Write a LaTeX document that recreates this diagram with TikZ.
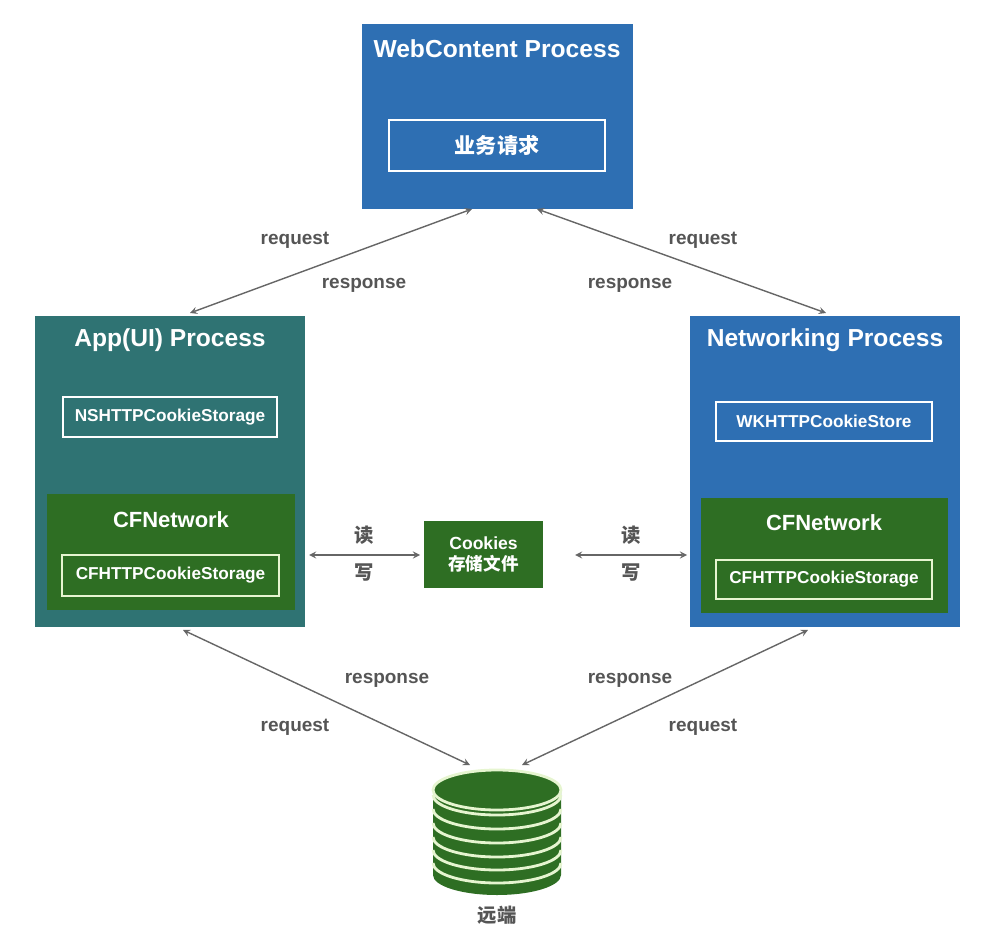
\documentclass[tikz,border=0pt]{standalone}
\usepackage{fontspec}
\setmainfont{Liberation Sans}
\newfontfamily\cjk{Noto Sans CJK SC}
\begin{document}
\begin{tikzpicture}[x=0.02cm,y=-0.02cm,font=\bfseries,
 inb/.style={draw=white,line width=1pt},
 ttl/.style={text=white,font=\bfseries\fontsize{14}{16}\selectfont},
 sm/.style={text=white,font=\bfseries\fontsize{9.8}{12}\selectfont},
 lbl/.style={text=labC,font=\bfseries\fontsize{10.8}{13}\selectfont},
 cj/.style={text=labC,font=\bfseries\cjk\fontsize{11}{13}\selectfont},
 arr/.style={<->,>=stealth,draw=arrC,line width=0.8pt}]
\definecolor{blueC}{HTML}{2E6FB3}
\definecolor{tealC}{HTML}{2F7373}
\definecolor{greenC}{HTML}{2E6E23}
\definecolor{labC}{HTML}{555555}
\definecolor{arrC}{HTML}{666666}
\definecolor{lineC}{HTML}{E6F5D0}
\useasboundingbox (0,0) rectangle (1000,935);
% WebContent
\fill[blueC] (362,24) rectangle (633,209);
\node[ttl] (wct) at (497,49) {WebContent Process};
\node[inb,minimum width=216*0.02cm,minimum height=51*0.02cm,text=white,font=\bfseries\cjk\fontsize{12}{14}\selectfont] (yw) at (497,145.5) {业务请求};
\coordinate (wc1) at (472,209); \coordinate (wc2) at (537,209);
% App
\fill[tealC] (35,316) rectangle (305,627);
\node[ttl] (appt) at (170,340) {App(UI) Process};
\node[inb,sm,minimum width=214*0.02cm,minimum height=40*0.02cm] (ns) at (170,417) {NSHTTPCookieStorage};
\fill[greenC] (47,494) rectangle (295,610);
\node[text=white,font=\bfseries\fontsize{12.5}{14}\selectfont] (cf1) at (171,520) {CFNetwork};
\node[draw=lineC,line width=1pt,sm,minimum width=217*0.02cm,minimum height=41*0.02cm] (cfs1) at (170.5,575.5) {CFHTTPCookieStorage};
% Networking
\fill[blueC] (690,316) rectangle (960,627);
\node[ttl] (nett) at (825,340) {Networking Process};
\node[inb,sm,minimum width=216*0.02cm,minimum height=39*0.02cm] (wk) at (824,421.5) {WKHTTPCookieStore};
\fill[greenC] (701,498) rectangle (948,613);
\node[text=white,font=\bfseries\fontsize{12.5}{14}\selectfont] (cf2) at (824,523) {CFNetwork};
\node[draw=lineC,line width=1pt,sm,minimum width=216*0.02cm,minimum height=39*0.02cm] (cfs2) at (824,579.5) {CFHTTPCookieStorage};
% Cookies
\node[fill=greenC,minimum width=119*0.02cm,minimum height=67*0.02cm,text=white,align=center,font=\bfseries\fontsize{10}{12.5}\selectfont] (ck) at (483.5,554.5) {Cookies\\{\cjk 存储文件}};
% DB
\fill[greenC] (433,790) -- (433,875) arc[start angle=180,end angle=0,x radius=64,y radius=20] -- (561,790) -- cycle;
\foreach \yy in {795,809,823,837,850,863}
 \draw[lineC,line width=1.6pt] (433,\yy) arc[start angle=180,end angle=0,x radius=64,y radius=20];
\draw[lineC,line width=1.6pt,fill=greenC] (497,790) ellipse[x radius=64,y radius=20];
\node[cj] (yd) at (497,915) {远端};
% arrows
\coordinate (a1) at (190,313); \coordinate (a2) at (826,313);
\draw[arr] (wc1) -- (a1);
\draw[arr] (wc2) -- (a2);
\coordinate (b1) at (183,630); \coordinate (b2) at (808,630);
\coordinate (d1) at (470,765); \coordinate (d2) at (522,765);
\draw[arr] (b1) -- (d1);
\draw[arr] (b2) -- (d2);
\coordinate (r1) at (309,555); \coordinate (r2) at (420,555);
\coordinate (r3) at (575,555); \coordinate (r4) at (687,555);
\draw[arr] (r1) -- (r2);
\draw[arr] (r3) -- (r4);
\node[lbl] (l1) at (295,240) {request};
\node[lbl] (l2) at (364,285) {response};
\node[lbl] (l3) at (703,240) {request};
\node[lbl] (l4) at (630,285) {response};
\node[lbl] (l5) at (387,680) {response};
\node[lbl] (l6) at (295,727) {request};
\node[lbl] (l7) at (630,680) {response};
\node[lbl] (l8) at (703,727) {request};
\node[cj] (rd1) at (364,535) {读};
\node[cj] (wr1) at (364,573) {写};
\node[cj] (rd2) at (631,535) {读};
\node[cj] (wr2) at (631,573) {写};
\end{tikzpicture}
\end{document}
